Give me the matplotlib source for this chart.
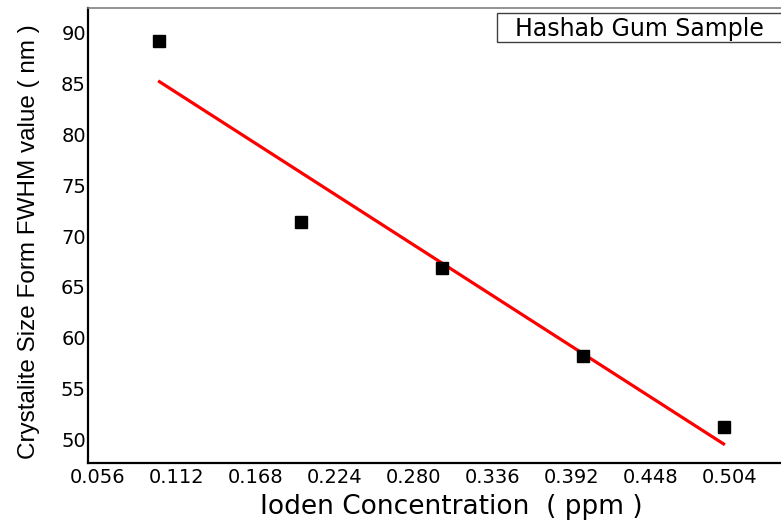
import matplotlib
matplotlib.use("Agg")
import matplotlib.pyplot as plt
import numpy as np
from matplotlib.patches import Rectangle

# Data
concentration = [0.1, 0.2, 0.3, 0.4, 0.5]
fwhm_size = [89.2, 71.4, 66.8, 58.2, 51.2]
x_ticks = [0.056, 0.112, 0.168, 0.224, 0.280, 0.336, 0.392, 0.448, 0.504]
x_tick_labels = ["0.056", "0.112", "0.168", "0.224", "0.280", "0.336", "0.392", "0.448", "0.504"]
y_ticks = [50, 55, 60, 65, 70, 75, 80, 85, 90]
legend_label = "Hashab Gum Sample"

W, H = 781, 524
fig = plt.figure(figsize=(W / 100, H / 100), dpi=100)
ax = fig.add_axes([88 / W, 61 / H, 732 / W, 455 / H])

# Linear fit line
coef = np.polyfit(concentration, fwhm_size, 1)
xfit = np.array([concentration[0], concentration[-1]])
ax.plot(xfit, np.polyval(coef, xfit), color="#ff0000", lw=2.3, zorder=2)
ax.plot(concentration, fwhm_size, linestyle="none", marker="s", markersize=8.8,
        color="black", zorder=3)

ax.set_xlim(0.0493, 0.5684)
ax.set_ylim(47.64, 92.46)
ax.set_xticks(x_ticks)
ax.set_xticklabels(x_tick_labels)
ax.set_yticks(y_ticks)
ax.tick_params(axis="both", length=0, labelsize=14)
ax.tick_params(axis="x", pad=3.5)
ax.tick_params(axis="y", pad=1.5)
for lab in ax.get_xticklabels() + ax.get_yticklabels():
    lab.set_fontfamily("DejaVu Sans")

for s in ["left", "bottom"]:
    ax.spines[s].set_linewidth(1.6)
    ax.spines[s].set_color("black")
ax.spines["top"].set_color("#808080")
ax.spines["top"].set_linewidth(1.2)
ax.spines["right"].set_visible(False)

ax.set_xlabel("Ioden Concentration  ( ppm )", fontsize=19, family="DejaVu Sans", va="center")
ax.xaxis.set_label_coords(0.497, -0.0978)
ax.set_ylabel("Crystalite Size Form FWHM value ( nm )", fontsize=17.5,
              family="Liberation Sans", va="center")
ax.yaxis.set_label_coords(-0.0806, 0.486)

# Legend-like text box
fig.patches.append(Rectangle((497 / W, (H - 42) / H), 400 / W, 29 / H,
                             transform=fig.transFigure, fill=False,
                             edgecolor="#404040", lw=1.0))
fig.text(515 / W, (H - 35.7) / H, legend_label, fontsize=17,
         family="DejaVu Sans", va="baseline", ha="left")

fig.savefig("out.png", dpi=100)
